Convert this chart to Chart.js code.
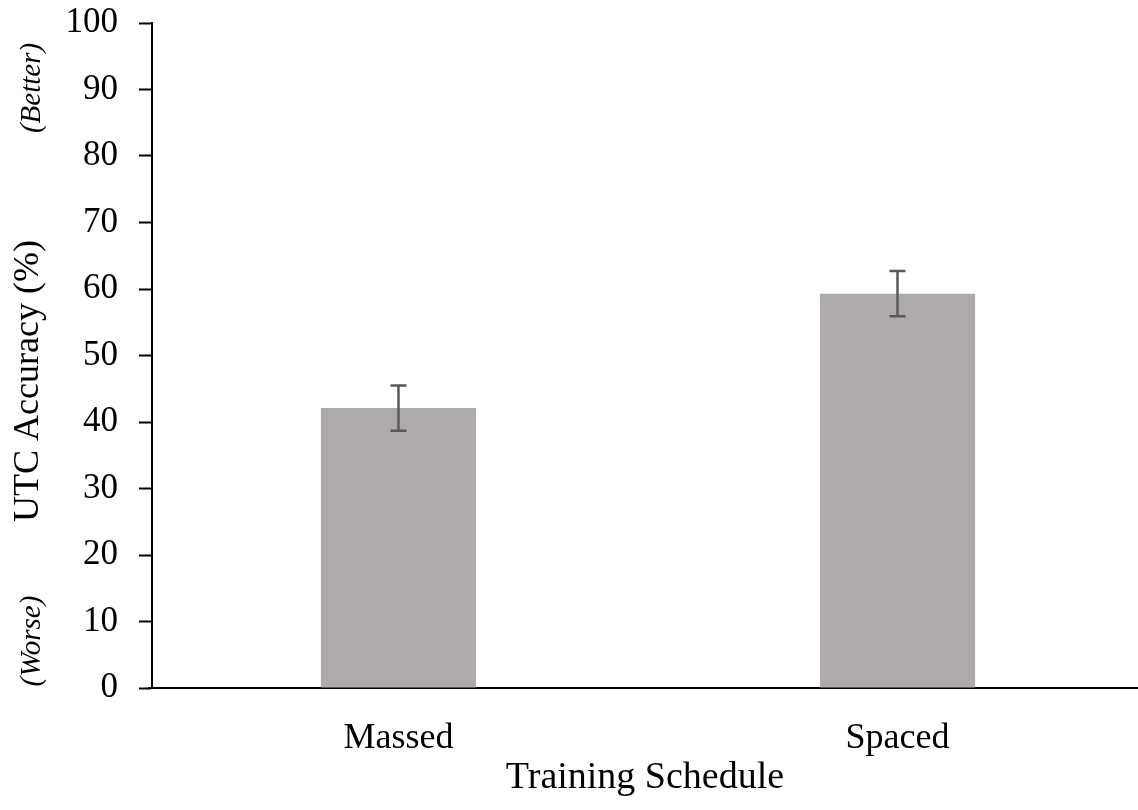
<!DOCTYPE html>
<html>
<head>
<meta charset="utf-8">
<title>UTC Accuracy by Training Schedule</title>
<script src="https://cdn.jsdelivr.net/npm/chart.js@4/dist/chart.umd.min.js"></script>
<style>
  html, body { margin: 0; padding: 0; background: #ffffff; }
  canvas { display: block; }
</style>
</head>
<body>
<canvas id="chart" width="1138" height="810"></canvas>
<script>
// Mean UTC accuracy per training schedule, with standard error
const categories = ['Massed', 'Spaced'];
const accuracy = [42.1, 59.3];
const stdError = [3.4, 3.4];
const yTicks = [0, 10, 20, 30, 40, 50, 60, 70, 80, 90, 100];

const SERIF = "'Liberation Serif', 'Times New Roman', serif";

// Widen the category axis slightly so its span runs past the canvas edge
const categorySpan = {
  id: 'categorySpan',
  afterLayout(chart) {
    const x = chart.scales.x;
    x.left = 149;
    x.right = 1147;
    x.width = x.right - x.left;
    x.configure();
  }
};

// Draws the error bars from the scale
const errorBars = {
  id: 'errorBars',
  afterDatasetsDraw(chart) {
    const ctx = chart.ctx;
    const y = chart.scales.y;
    const meta = chart.getDatasetMeta(0);
    ctx.save();
    ctx.strokeStyle = '#595959';
    ctx.lineWidth = 2.5;
    meta.data.forEach((bar, i) => {
      const top = y.getPixelForValue(accuracy[i] + stdError[i]);
      const bot = y.getPixelForValue(accuracy[i] - stdError[i]);
      const x = bar.x;
      ctx.beginPath();
      ctx.moveTo(x, top); ctx.lineTo(x, bot);
      ctx.moveTo(x - 8, top); ctx.lineTo(x + 8, top);
      ctx.moveTo(x - 8, bot); ctx.lineTo(x + 8, bot);
      ctx.stroke();
    });
    ctx.restore();
  }
};

// Axis titles and the direction notes beside the y axis
const axisTitles = {
  id: 'axisTitles',
  afterDraw(chart) {
    const ctx = chart.ctx;
    ctx.save();
    ctx.fillStyle = '#000000';
    ctx.textAlign = 'center';

    ctx.font = '38px ' + SERIF;
    ctx.textBaseline = 'alphabetic';
    ctx.fillText('Training Schedule', 645, 788);

    ctx.textBaseline = 'middle';
    const vtext = (txt, x, yy, font) => {
      ctx.save();
      ctx.translate(x, yy);
      ctx.rotate(-Math.PI / 2);
      ctx.font = font;
      ctx.fillText(txt, 0, 0);
      ctx.restore();
    };
    vtext('UTC Accuracy (%)', 29, 381, '36px ' + SERIF);
    vtext('(Better)', 32, 88, 'italic 29px ' + SERIF);
    vtext('(Worse)', 32, 641, 'italic 29px ' + SERIF);
    ctx.restore();
  }
};

new Chart(document.getElementById('chart'), {
  type: 'bar',
  data: {
    labels: categories,
    datasets: [{
      data: accuracy,
      backgroundColor: '#AEAAAA',
      borderWidth: 0,
      barPercentage: 0.311,
      categoryPercentage: 1.0
    }]
  },
  options: {
    responsive: false,
    animation: false,
    devicePixelRatio: 1,
    layout: { padding: { top: 23, right: 0, bottom: 0, left: 0 } },
    plugins: {
      legend: { display: false },
      tooltip: { enabled: false }
    },
    scales: {
      x: {
        grid: { display: false, drawTicks: false, tickLength: 0 },
        border: { display: true, color: '#000000', width: 2 },
        ticks: {
          color: '#000000',
          padding: 29,
          font: { family: SERIF, size: 36 }
        },
        afterFit(scale) { scale.height = 122; scale.paddingLeft = 0; scale.paddingRight = 0; }
      },
      y: {
        min: 0,
        max: 100,
        afterBuildTicks(scale) { scale.ticks = yTicks.map(v => ({ value: v })); },
        grid: {
          display: true,
          drawOnChartArea: false,
          drawTicks: true,
          tickLength: 13,
          tickWidth: 2,
          tickColor: '#000000'
        },
        border: { display: true, color: '#000000', width: 2 },
        ticks: {
          color: '#000000',
          padding: 21,
          font: { family: SERIF, size: 35 }
        },
        afterFit(scale) { scale.width = 152; scale.paddingTop = 0; scale.paddingBottom = 0; }
      }
    }
  },
  plugins: [categorySpan, errorBars, axisTitles]
});
</script>
</body>
</html>
